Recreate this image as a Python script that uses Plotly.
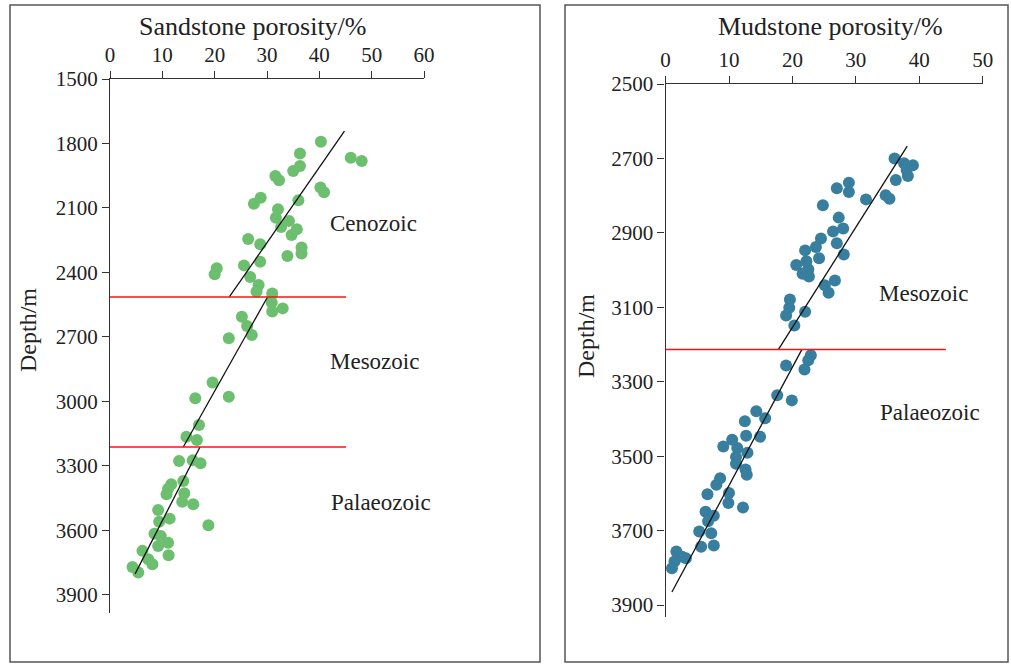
import plotly.graph_objects as go

# ---------------- data ----------------
sand_porosity = [40.3, 46.0, 48.1, 36.3, 36.3, 35.0, 31.6, 32.3, 40.2, 40.9, 28.8, 27.5, 36.0, 32.1,
                 31.7, 34.2, 32.7, 35.7, 34.7, 26.4, 28.7, 36.6, 36.6, 33.9, 25.6, 28.7, 20.4, 20.0,
                 26.8, 28.4, 28.0, 31.0, 30.9, 33.0, 31.0, 25.2, 26.2, 27.1, 22.7, 19.6, 16.3, 22.7,
                 17.0, 14.6, 16.6, 13.2, 15.8, 17.3, 14.0, 11.7, 11.1, 10.8, 14.2, 13.8, 15.9, 9.2,
                 11.4, 9.4, 18.8, 8.5, 9.7, 11.1, 9.2, 6.2, 11.2, 7.3, 8.1, 4.3, 5.4]
sand_depth = [1792, 1866, 1881, 1847, 1905, 1928, 1951, 1971, 2005, 2027, 2052, 2080, 2064, 2106,
              2145, 2160, 2188, 2199, 2226, 2244, 2269, 2284, 2312, 2323, 2367, 2350, 2380, 2408,
              2421, 2458, 2489, 2498, 2540, 2567, 2582, 2606, 2649, 2691, 2706, 2912, 2985, 2978,
              3109, 3164, 3179, 3277, 3274, 3287, 3370, 3385, 3406, 3432, 3427, 3466, 3478, 3505,
              3545, 3559, 3576, 3615, 3626, 3657, 3672, 3695, 3715, 3734, 3757, 3770, 3796]

mud_porosity = [36.1, 37.6, 39.0, 38.0, 38.2, 36.3, 28.9, 28.9, 27.0, 31.6, 34.7, 35.3, 24.8, 27.3,
                28.0, 26.4, 24.5, 23.7, 27.0, 22.0, 24.2, 28.1, 22.2, 20.6, 22.5, 21.6, 22.6, 26.7,
                25.1, 25.7, 19.6, 19.5, 22.0, 19.0, 20.3, 22.9, 22.5, 19.0, 21.9, 17.6, 19.9, 14.3,
                15.7, 12.5, 12.7, 14.9, 10.5, 9.1, 11.3, 12.9, 11.1, 11.1, 12.6, 12.8, 8.6, 8.0,
                6.6, 10.0, 9.9, 12.2, 6.3, 7.6, 6.7, 5.3, 7.2, 5.6, 7.6, 1.7, 2.6, 3.2, 1.4, 1.0]
mud_depth = [2700, 2713, 2718, 2731, 2747, 2758, 2765, 2790, 2780, 2810, 2799, 2808, 2826, 2859,
             2888, 2896, 2915, 2938, 2928, 2947, 2968, 2958, 2976, 2986, 2998, 3010, 3017, 3028,
             3041, 3061, 3079, 3101, 3112, 3122, 3149, 3229, 3242, 3256, 3267, 3336, 3350, 3379,
             3398, 3406, 3445, 3448, 3456, 3474, 3478, 3491, 3502, 3520, 3536, 3550, 3559, 3577,
             3602, 3599, 3626, 3638, 3649, 3660, 3675, 3702, 3707, 3743, 3740, 3756, 3770, 3774,
             3783, 3801]

# trend lines (porosity, depth) pairs
sand_trend_ceno_x = [22.8, 44.8]
sand_trend_ceno_y = [2514, 1742]
sand_trend_meso_x = [30.1, 14.0]
sand_trend_meso_y = [2514, 3212]
sand_trend_palaeo_x = [17.2, 4.8]
sand_trend_palaeo_y = [3212, 3802]

mud_trend_meso_x = [38.1, 17.8]
mud_trend_meso_y = [2667, 3213]
mud_trend_palaeo_x = [21.5, 1.0]
mud_trend_palaeo_y = [3213, 3865]

# era boundaries
sand_boundaries = [2514, 3212]
sand_boundary_x = [0, 45.1]
mud_boundaries = [3213]
mud_boundary_x = [0, 44.2]

sand_xticks = [0, 10, 20, 30, 40, 50, 60]
sand_yticks = [1500, 1800, 2100, 2400, 2700, 3000, 3300, 3600, 3900]
mud_xticks = [0, 10, 20, 30, 40, 50]
mud_yticks = [2500, 2700, 2900, 3100, 3300, 3500, 3700, 3900]

sand_labels = ["Cenozoic", "Mesozoic", "Palaeozoic"]
sand_label_x = [50.3, 50.6, 51.8]
sand_label_y = [2170, 2812, 3472]
mud_labels = ["Mesozoic", "Palaeozoic"]
mud_label_x = [40.7, 41.7]
mud_label_y = [3063, 3383]

# ---------------- figure ----------------
W, H = 1011, 667
FONT = "Liberation Serif, Times New Roman, serif"
TXT = "#222222"
GREEN = "#6CBF6E"
BLUE = "#387E9E"

fig = go.Figure()

fig.add_trace(go.Scatter(x=sand_porosity, y=sand_depth, mode="markers",
                         marker=dict(color=GREEN, size=12, line=dict(width=0)),
                         xaxis="x", yaxis="y", showlegend=False))
for tx, ty in [(sand_trend_ceno_x, sand_trend_ceno_y), (sand_trend_meso_x, sand_trend_meso_y),
               (sand_trend_palaeo_x, sand_trend_palaeo_y)]:
    fig.add_trace(go.Scatter(x=tx, y=ty, mode="lines", line=dict(color="#111111", width=1.3),
                             xaxis="x", yaxis="y", showlegend=False))
for b in sand_boundaries:
    fig.add_trace(go.Scatter(x=sand_boundary_x, y=[b, b], mode="lines",
                             line=dict(color="#FF1010", width=1.5),
                             xaxis="x", yaxis="y", showlegend=False))

fig.add_trace(go.Scatter(x=mud_porosity, y=mud_depth, mode="markers",
                         marker=dict(color=BLUE, size=12, line=dict(width=0)),
                         xaxis="x2", yaxis="y2", showlegend=False))
for tx, ty in [(mud_trend_meso_x, mud_trend_meso_y), (mud_trend_palaeo_x, mud_trend_palaeo_y)]:
    fig.add_trace(go.Scatter(x=tx, y=ty, mode="lines", line=dict(color="#111111", width=1.3),
                             xaxis="x2", yaxis="y2", showlegend=False))
for b in mud_boundaries:
    fig.add_trace(go.Scatter(x=mud_boundary_x, y=[b, b], mode="lines",
                             line=dict(color="#FF1010", width=1.5),
                             xaxis="x2", yaxis="y2", showlegend=False))

axis_common = dict(showgrid=False, zeroline=False, showline=True, linecolor="#333333",
                   linewidth=1.3, ticks="outside", ticklen=7, tickwidth=1.2, automargin=False,
                   tickcolor="#333333", tickfont=dict(family=FONT, size=21, color=TXT))

fig.update_layout(
    width=W, height=H,
    margin=dict(l=0, r=0, t=0, b=0, autoexpand=False),
    paper_bgcolor="white", plot_bgcolor="white",
    xaxis=dict(domain=[110 / W, 424 / W], range=[0, 60], side="top", anchor="y",
               tickvals=sand_xticks, **axis_common),
    yaxis=dict(domain=[1 - 613 / H, 1 - 79 / H], range=[3984, 1500], anchor="x",
               tickvals=sand_yticks, **axis_common),
    xaxis2=dict(domain=[665.6 / W, 982.7 / W], range=[0, 50], side="top", anchor="y2",
                tickvals=mud_xticks, **axis_common),
    yaxis2=dict(domain=[1 - 617 / H, 1 - 84 / H], range=[3932, 2500], anchor="x2",
                tickvals=mud_yticks, **axis_common),
)

annotations = []
for t, x, y in zip(sand_labels, sand_label_x, sand_label_y):
    annotations.append(dict(text=t, x=x, y=y, xref="x", yref="y", showarrow=False,
                            xanchor="center", yanchor="middle",
                            font=dict(family=FONT, size=23, color=TXT)))
for t, x, y in zip(mud_labels, mud_label_x, mud_label_y):
    annotations.append(dict(text=t, x=x, y=y, xref="x2", yref="y2", showarrow=False,
                            xanchor="center", yanchor="middle",
                            font=dict(family=FONT, size=23, color=TXT)))
# axis titles
title_font = dict(family=FONT, size=26, color=TXT)
annotations += [
    dict(text="Sandstone porosity/%", x=253 / W, y=1 - 26 / H, xref="paper", yref="paper",
         xanchor="center", yanchor="middle", showarrow=False, font=title_font),
    dict(text="Mudstone porosity/%", x=830 / W, y=1 - 26 / H, xref="paper", yref="paper",
         xanchor="center", yanchor="middle", showarrow=False, font=title_font),
    dict(text="Depth/m", x=28 / W, y=1 - 330 / H, xref="paper", yref="paper", textangle=-90,
         xanchor="center", yanchor="middle", showarrow=False,
         font=dict(family=FONT, size=24, color=TXT)),
    dict(text="Depth/m", x=586 / W, y=1 - 336 / H, xref="paper", yref="paper", textangle=-90,
         xanchor="center", yanchor="middle", showarrow=False,
         font=dict(family=FONT, size=24, color=TXT)),
]
fig.update_layout(annotations=annotations)

# panel frames
fig.add_shape(type="rect", xref="paper", yref="paper", x0=10 / W, x1=540 / W,
              y0=1 - 662 / H, y1=1 - 5 / H, line=dict(color="#555555", width=1.5))
fig.add_shape(type="rect", xref="paper", yref="paper", x0=565 / W, x1=1008 / W,
              y0=1 - 662 / H, y1=1 - 5 / H, line=dict(color="#555555", width=1.5))

fig.write_html("out.html")
